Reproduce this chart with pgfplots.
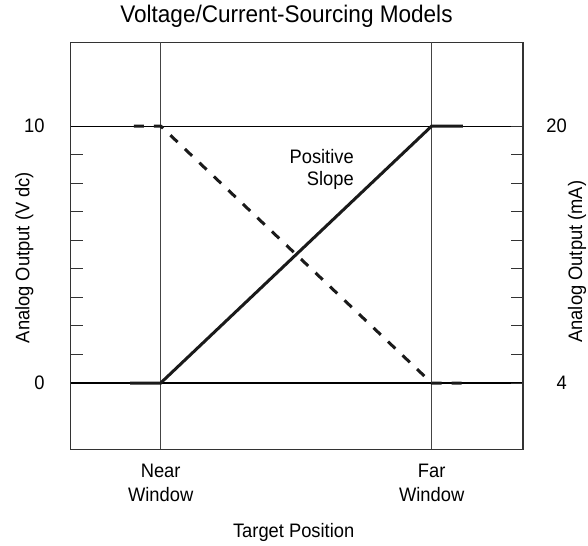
\documentclass[border=0pt]{standalone}
\usepackage{fontspec}
\setmainfont{Liberation Sans}[FakeStretch=0.94]
\usepackage{pgfplots}
\pgfplotsset{compat=1.18}
\definecolor{ink}{HTML}{1A1A1A}
\definecolor{boxc}{HTML}{333333}
\definecolor{gridc}{HTML}{444444}
\newcommand{\lblfont}{\fontsize{19.5bp}{24bp}\selectfont}
\begin{document}
\begin{tikzpicture}
\useasboundingbox (0,0) rectangle (588bp,546bp);
\pgfplotsset{
  common/.style={
    at={(70.7bp,96.7bp)}, anchor=south west,
    scale only axis, width=452.3bp, height=407bp,
    xmin=-0.332, xmax=1.337, ymin=-2.58, ymax=13.26,
    axis line style={boxc, line width=1.2bp},
    tick align=inside,
    major tick length=12.5bp,
    every tick/.style={boxc, line width=1bp},
    ytick={0,1.1111,2.2222,3.3333,4.4444,5.5556,6.6667,7.7778,8.8889,10},
    /pgf/number format/assume math mode=true,
    tick label style={font=\lblfont},
    label style={font=\lblfont},
  }
}
\begin{axis}[common,
  ytick pos=left,
  yticklabels={0,,,,,,,,,10},
  yticklabel style={inner sep=0pt, anchor=east, xshift=-26bp},
  xtick={0,1},
  xticklabels={Near\\Window, Far\\Window},
  xticklabel style={align=center, inner sep=0pt, anchor=north, yshift=-14.5bp},
  major x tick style={draw=none},
  extra y ticks={0,10},
  extra y tick labels={,},
  extra y tick style={grid=major, major grid style={draw=black, line width=1.1bp}, major tick length=0pt},
  title={Voltage/Current-Sourcing Models},
  title style={at={(axis description cs:0.477,1.0351)}, anchor=base, font=\fontsize{24bp}{28bp}\selectfont},
  xlabel={Target Position},
  xlabel style={at={(axis description cs:0.493,-0.2155)}, anchor=base},
  ylabel={Analog Output (V dc)},
  ylabel style={at={(axis description cs:-0.0911,0.471)}, anchor=base},
]
% near / far window reference lines
\addplot[gridc, line width=1.6bp] coordinates {(0,-2.58) (0,13.26)};
\addplot[gridc, line width=1.6bp] coordinates {(1,-2.58) (1,13.26)};
% output curves
\addplot[ink, line width=3bp, line join=miter] coordinates {(-0.113,0) (0,0) (1,10) (1.1155,10)};
\addplot[ink, line width=3bp, dash pattern=on 10bp off 10bp] coordinates {(-0.0985,10) (0,10) (1,0) (1.1155,0)};
\node[anchor=north east, align=right, inner sep=0pt, font=\fontsize{19.5bp}{22bp}\selectfont] at (axis cs:0.7133,9.105) {Positive\\Slope};
\end{axis}
\begin{axis}[common,
  hide x axis,
  ytick pos=right,
  yticklabel pos=right,
  yticklabels={4,,,,,,,,,20},
  yticklabel style={inner sep=0pt, anchor=east, xshift=44bp},
  ylabel={Analog Output (mA)},
  ylabel style={at={(axis description cs:1.1305,0.461)}, anchor=base},
]
\end{axis}
\end{tikzpicture}
\end{document}
